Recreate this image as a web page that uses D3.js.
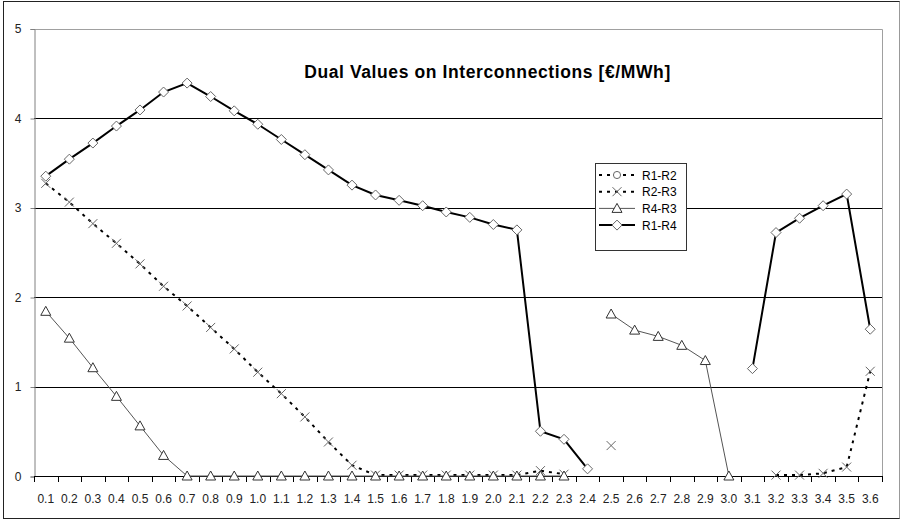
<!DOCTYPE html>
<html>
<head>
<meta charset="utf-8">
<script src="https://cdn.jsdelivr.net/npm/d3@7"></script>
<style>
  body { margin: 0; background: #fff; }
  svg { font-family: Arial, "Liberation Sans", sans-serif; }
</style>
</head>
<body>
<div id="chart"></div>
<script>
// categories on the x axis
var categories = ["0.1","0.2","0.3","0.4","0.5","0.6","0.7","0.8","0.9","1.0",
    "1.1","1.2","1.3","1.4","1.5","1.6","1.7","1.8","1.9","2.0",
    "2.1","2.2","2.3","2.4","2.5","2.6","2.7","2.8","2.9","3.0",
    "3.1","3.2","3.3","3.4","3.5","3.6"];

// series values (null = no value)
var r1r2 = categories.map(function() { return null; });

var r2r3 = [3.27, 3.06, 2.82, 2.60, 2.37, 2.12, 1.90, 1.66, 1.42, 1.16,
    0.92, 0.66, 0.38, 0.12, 0.01, 0.01, 0.01, 0.01, 0.01, 0.01,
    0.01, 0.06, 0.02, null, 0.34, null, null, null, null, null,
    null, 0.01, 0.01, 0.03, 0.10, 1.17];

var r4r3 = [1.84, 1.54, 1.21, 0.89, 0.56, 0.23, 0, 0, 0, 0,
    0, 0, 0, 0, 0, 0, 0, 0, 0, 0,
    0, 0, 0, null, 1.81, 1.63, 1.56, 1.46, 1.29, 0,
    null, null, null, null, null, null];

var r1r4 = [3.35, 3.54, 3.72, 3.91, 4.09, 4.29, 4.39, 4.24, 4.08, 3.93,
    3.76, 3.59, 3.42, 3.25, 3.14, 3.08, 3.02, 2.95, 2.89, 2.81,
    2.75, 0.50, 0.41, 0.08, null, null, null, null, null, null,
    1.20, 2.72, 2.88, 3.02, 3.15, 1.64];

var yTicks = [0, 1, 2, 3, 4, 5];
var seriesNames = ["R1-R2", "R2-R3", "R4-R3", "R1-R4"];

var width = 901, height = 521;
var plot = { left: 34, right: 882, top: 28.5, bottom: 476 };

var svg = d3.select("#chart").append("svg")
    .attr("width", width)
    .attr("height", height);

// outer frame
svg.append("rect")
    .attr("x", 3.5).attr("y", 1.5)
    .attr("width", 896).attr("height", 517)
    .style("fill", "#fff")
    .style("stroke", "#222")
    .style("stroke-width", 1);
svg.append("line")
    .attr("x1", 899.5).attr("x2", 899.5).attr("y1", 1.5).attr("y2", 518.5)
    .style("stroke", "#999");

var x = d3.scaleBand()
    .domain(categories)
    .range([plot.left, plot.right])
    .paddingInner(0).paddingOuter(0);

var y = d3.scaleLinear()
    .domain([0, 5])
    .range([plot.bottom, plot.top]);

function cx(d, i) { return x(categories[i]) + x.bandwidth() / 2; }

// plot area border (top / right gray)
svg.append("path")
    .attr("d", "M" + (plot.left + 0.5) + "," + (Math.round(y(5)) + 0.5) +
        "H" + (plot.right + 0.5) + "V" + (plot.bottom + 0.5))
    .style("fill", "none")
    .style("stroke", "#a0a0a0");

// gridlines
svg.append("g").selectAll("line")
    .data(yTicks.filter(function(d) { return d > 0 && d < 5; }))
    .enter().append("line")
    .attr("x1", plot.left).attr("x2", plot.right)
    .attr("y1", function(d) { return Math.round(y(d)) + 0.5; })
    .attr("y2", function(d) { return Math.round(y(d)) + 0.5; })
    .style("stroke", "#000");

// y axis
var yAxis = svg.append("g")
    .attr("transform", "translate(" + (plot.left + 0.5) + ",0.5)")
    .call(d3.axisLeft(y).tickValues(yTicks).tickSize(4).tickPadding(9)
        .tickFormat(d3.format("d")));
yAxis.select(".domain").style("stroke", "#808080");
yAxis.selectAll(".tick line").style("stroke", "#808080");
yAxis.selectAll("text").style("font-size", "12px").style("fill", "#222")
    .attr("font-family", null);

// x axis
var xAxisG = svg.append("g");
xAxisG.append("line")
    .attr("x1", plot.left).attr("x2", plot.right + 1)
    .attr("y1", plot.bottom + 0.5).attr("y2", plot.bottom + 0.5)
    .style("stroke", "#000");
xAxisG.selectAll(".xtick")
    .data(categories.concat(["end"]))
    .enter().append("line")
    .attr("class", "xtick")
    .attr("x1", function(d) { return Math.round(d === "end" ? plot.right : x(d)) + 0.5; })
    .attr("x2", function(d) { return Math.round(d === "end" ? plot.right : x(d)) + 0.5; })
    .attr("y1", plot.bottom)
    .attr("y2", plot.bottom + 6)
    .style("stroke", "#000");
xAxisG.selectAll(".xlabel")
    .data(categories)
    .enter().append("text")
    .attr("class", "xlabel")
    .attr("x", function(d) { return x(d) + x.bandwidth() / 2; })
    .attr("y", 503)
    .attr("text-anchor", "middle")
    .style("font-size", "12px")
    .style("fill", "#222")
    .text(function(d) { return d; });

// series styles
var styles = {
    "R1-R2": { data: r1r2, stroke: "#000", width: 2, dash: "3,5", marker: "circle" },
    "R2-R3": { data: r2r3, stroke: "#000", width: 2, dash: "3,5", marker: "x" },
    "R4-R3": { data: r4r3, stroke: "#555", width: 1, dash: null, marker: "triangle" },
    "R1-R4": { data: r1r4, stroke: "#000", width: 2, dash: null, marker: "diamond" }
};

var line = d3.line()
    .defined(function(d) { return d != null; })
    .x(cx)
    .y(function(d) { return y(d); });

function markerPath(type) {
    if (type === "diamond") return "M0,-5L5,0L0,5L-5,0Z";
    if (type === "triangle") return "M0,-5L5,4L-5,4Z";
    if (type === "x") return "M-4.5,-4.5L4.5,4.5M-4.5,4.5L4.5,-4.5";
    return d3.symbol().type(d3.symbolCircle).size(40)();
}

function markerStyle(sel, type) {
    sel.attr("d", markerPath(type))
        .style("fill", type === "x" ? "none" : "#fff")
        .style("stroke", type === "triangle" ? "#333" : "#666")
        .style("stroke-width", 1);
}

// lines
seriesNames.forEach(function(name) {
    var s = styles[name];
    svg.append("path")
        .datum(s.data)
        .attr("d", line)
        .style("fill", "none")
        .style("stroke", s.stroke)
        .style("stroke-width", s.width)
        .style("stroke-dasharray", s.dash);
});

// markers
seriesNames.forEach(function(name) {
    var s = styles[name];
    var pts = s.data.map(function(d, i) { return { v: d, i: i }; })
        .filter(function(d) { return d.v != null; });
    svg.append("g").selectAll("path")
        .data(pts)
        .enter().append("path")
        .attr("transform", function(d) {
            return "translate(" + cx(d.v, d.i) + "," + y(d.v) + ")";
        })
        .call(markerStyle, s.marker);
});

// title
svg.append("text")
    .attr("x", 487.5)
    .attr("y", 78)
    .attr("text-anchor", "middle")
    .style("font-size", "17.5px")
    .style("font-weight", "bold")
    .style("letter-spacing", "0.6px")
    .style("fill", "#000")
    .text("Dual Values on Interconnections [€/MWh]");

// legend
var legend = svg.append("g").attr("transform", "translate(595,163)");
legend.append("rect")
    .attr("x", 0.5).attr("y", 0.5)
    .attr("width", 91).attr("height", 87)
    .style("fill", "#fff")
    .style("stroke", "#333");

var item = legend.selectAll(".item")
    .data(seriesNames)
    .enter().append("g")
    .attr("class", "item")
    .attr("transform", function(d, i) { return "translate(0," + (12 + i * 16.7) + ")"; });

item.append("line")
    .attr("x1", 4).attr("x2", 40)
    .attr("y1", 0).attr("y2", 0)
    .style("stroke", function(d) { return styles[d].stroke; })
    .style("stroke-width", function(d) { return styles[d].width; })
    .style("stroke-dasharray", function(d) { return styles[d].dash; });

item.append("path")
    .attr("transform", "translate(22,0)")
    .each(function(d) { d3.select(this).call(markerStyle, styles[d].marker); });

item.append("text")
    .attr("x", 47)
    .attr("y", 4.5)
    .style("font-size", "12px")
    .style("fill", "#000")
    .text(function(d) { return d; });
</script>
</body>
</html>
